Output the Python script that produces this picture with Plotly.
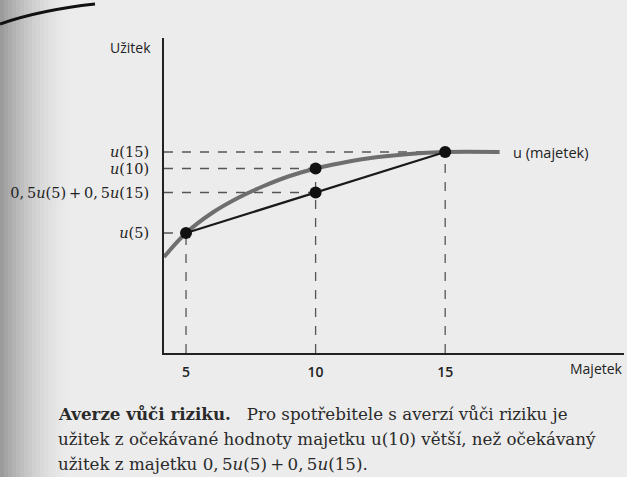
import plotly.graph_objects as go

# ---- data ----
wealth_curve = [4.15, 5, 6, 7, 8, 9, 10, 11, 12, 13, 14, 15, 17.1]
utility_curve = [0.96, 1.20, 1.40, 1.55, 1.67, 1.77, 1.845, 1.90, 1.945, 1.975, 1.997, 2.01, 2.01]

u5, u10, u15 = 1.20, 1.845, 2.01
avg_u = 0.5 * u5 + 0.5 * u15

TS = "\u2009"  # thin space (math spacing)
x_ticks = [5, 10, 15]
x_tick_text = ["5", "10", "15"]
y_ticks = [u5, avg_u, u10, u15]
y_tick_text = [
    "<i>u</i>(5)",
    f"0,{TS}5<i>u</i>(5){TS}+{TS}0,{TS}5<i>u</i>(15)",
    "<i>u</i>(10)",
    "<i>u</i>(15)",
]

curve_label = "u (majetek)"
x_title = "Majetek"
y_title = "Užitek"
caption = [
    "<b>Averze vůči riziku.</b>   Pro spotřebitele s averzí vůči riziku je",
    "užitek z očekávané hodnoty majetku u(10) větší, než očekávaný",
    f"užitek z majetku 0,{TS}5<i>u</i>(5){TS}+{TS}0,{TS}5<i>u</i>(15).",
]

X_MIN, X_MAX = 4.15, 21.9
Y_MIN, Y_MAX = 0.0, 3.15

W, H = 627, 477
ML, MR, MT, MB = 164, 3, 38, 124
PW = W - ML - MR
PH = H - MT - MB

def px_x(px):
    return (px - ML) / PW

def px_y(py):
    return (H - MB - py) / PH

SERIF = "DejaVu Serif, Liberation Serif, serif"
SANS = "Open Sans, Liberation Sans, sans-serif"
INK = "#222222"

fig = go.Figure()

# dashed guide lines
dash_style = dict(color="#555555", width=1.3, dash="dash")
for yv, xv in [(u15, 15), (u10, 10), (avg_u, 10), (u5, 5)]:
    fig.add_trace(go.Scatter(x=[X_MIN, xv], y=[yv, yv], mode="lines",
                             line=dash_style, hoverinfo="skip", showlegend=False))
for xv, yv in [(5, u5), (10, u10), (15, u15)]:
    fig.add_trace(go.Scatter(x=[xv, xv], y=[Y_MIN, yv], mode="lines",
                             line=dash_style, hoverinfo="skip", showlegend=False))

# utility curve
fig.add_trace(go.Scatter(x=wealth_curve, y=utility_curve, mode="lines",
                         line=dict(color="#6e6e6e", width=4, shape="spline", smoothing=1.0),
                         showlegend=False))
# chord
fig.add_trace(go.Scatter(x=[5, 15], y=[u5, u15], mode="lines",
                         line=dict(color="#1a1a1a", width=2.2), showlegend=False))
# points
fig.add_trace(go.Scatter(x=[5, 10, 10, 15], y=[u5, u10, avg_u, u15], mode="markers",
                         marker=dict(color="#111111", size=12), showlegend=False))

annotations = [
    dict(x=px_x(511), y=u15, xref="paper", yref="y", text=curve_label,
         showarrow=False, xanchor="left", yanchor="middle",
         font=dict(family=SANS, size=14.5, color=INK)),
    dict(x=px_x(153), y=px_y(47), xref="paper", yref="paper", text=y_title,
         showarrow=False, xanchor="right", yanchor="middle",
         font=dict(family=SANS, size=14, color=INK)),
    dict(x=px_x(625), y=px_y(368), xref="paper", yref="paper", text=x_title,
         showarrow=False, xanchor="right", yanchor="middle",
         font=dict(family=SANS, size=14, color=INK)),
]
for i, line in enumerate(caption):
    annotations.append(dict(x=px_x(56), y=px_y(414 + 25 * i), xref="paper", yref="paper",
                            text=line, showarrow=False, xanchor="left", yanchor="middle",
                            font=dict(family=SERIF, size=16.7, color="#2a2a2a")))

# scanned-page shading on the left edge
shapes = []
steps = 18
for k in range(steps):
    x0 = k * 4
    shapes.append(dict(type="rect", xref="paper", yref="paper",
                       x0=px_x(x0), x1=px_x(x0 + 4), y0=px_y(H), y1=px_y(0),
                       fillcolor="black", opacity=0.34 * (1 - k / steps) ** 1.8,
                       line=dict(width=0), layer="below"))
# page curl at top-left
shapes.append(dict(type="path", xref="paper", yref="paper",
                   path=f"M {px_x(0)},{px_y(24)} Q {px_x(40)},{px_y(10)} {px_x(95)},{px_y(4)}",
                   line=dict(color="#111111", width=3)))

fig.update_layout(
    width=W, height=H,
    margin=dict(l=ML, r=MR, t=MT, b=MB, autoexpand=False),
    paper_bgcolor="#ececec",
    plot_bgcolor="rgba(0,0,0,0)",
    annotations=annotations,
    shapes=shapes,
    showlegend=False,
)
fig.update_xaxes(range=[X_MIN, X_MAX], showgrid=False, zeroline=False, automargin=False,
                 showline=True, linecolor=INK, linewidth=2,
                 tickvals=x_ticks, ticktext=x_tick_text, ticks="",
                 ticklabelstandoff=5,
                 tickfont=dict(family=SANS, size=14, color=INK, weight=600))
fig.update_yaxes(range=[Y_MIN, Y_MAX], showgrid=False, zeroline=False, automargin=False,
                 showline=True, linecolor=INK, linewidth=2,
                 tickvals=y_ticks, ticktext=y_tick_text, ticks="",
                 ticklabelstandoff=10,
                 tickfont=dict(family=SERIF, size=14.5, color=INK))

fig.write_html("out.html",
               config={"displayModeBar": False},
               post_script="document.body.style.margin='0';document.body.style.overflow='hidden';")
